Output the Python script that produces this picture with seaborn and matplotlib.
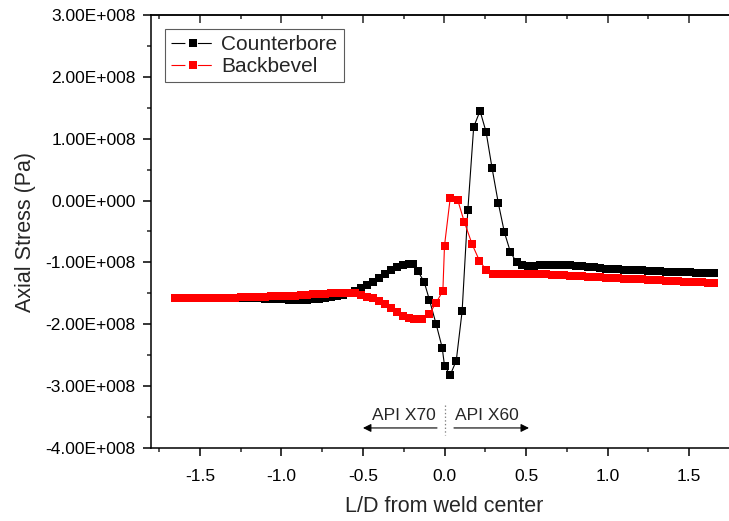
import numpy as np
import pandas as pd
import matplotlib
matplotlib.use("Agg")
import matplotlib.pyplot as plt
from matplotlib.lines import Line2D
from matplotlib.ticker import MultipleLocator, FuncFormatter
import seaborn as sns

# L/D positions and axial stress (in 1e8 Pa)
cb_x = [-1.652, -1.615, -1.578, -1.541, -1.505, -1.468, -1.431, -1.395, -1.358, -1.321,
        -1.285, -1.248, -1.211, -1.174, -1.138, -1.101, -1.064, -1.028, -0.991, -0.954,
        -0.918, -0.881, -0.844, -0.807, -0.771, -0.734, -0.697, -0.661, -0.624, -0.587,
        -0.551, -0.514, -0.477, -0.440, -0.404, -0.367, -0.330, -0.294, -0.257, -0.220,
        -0.195, -0.163, -0.124, -0.092, -0.051, -0.014, 0.000, 0.035, 0.072, 0.108,
        0.143, 0.179, 0.218, 0.255, 0.292, 0.330, 0.367, 0.404, 0.442, 0.478,
        0.514, 0.551, 0.587, 0.624, 0.661, 0.697, 0.734, 0.771, 0.807, 0.844,
        0.881, 0.918, 0.954, 0.991, 1.028, 1.064, 1.101, 1.138, 1.174, 1.211,
        1.248, 1.285, 1.321, 1.358, 1.395, 1.431, 1.468, 1.505, 1.541, 1.578,
        1.615, 1.652]
cb_y = [-1.57, -1.57, -1.57, -1.57, -1.57, -1.57, -1.57, -1.57, -1.57, -1.57,
        -1.57, -1.57, -1.575, -1.58, -1.58, -1.585, -1.59, -1.59, -1.595, -1.60,
        -1.60, -1.60, -1.60, -1.595, -1.59, -1.58, -1.565, -1.545, -1.52, -1.49,
        -1.46, -1.42, -1.37, -1.31, -1.25, -1.19, -1.13, -1.08, -1.04, -1.02,
        -1.03, -1.14, -1.32, -1.61, -2.00, -2.38, -2.67, -2.82, -2.59, -1.79,
        -0.16, 1.19, 1.45, 1.11, 0.52, -0.04, -0.51, -0.83, -1.00, -1.04,
        -1.05, -1.05, -1.04, -1.04, -1.035, -1.035, -1.04, -1.045, -1.05, -1.06,
        -1.07, -1.08, -1.09, -1.10, -1.105, -1.11, -1.115, -1.12, -1.125, -1.13,
        -1.135, -1.14, -1.145, -1.15, -1.15, -1.155, -1.16, -1.16, -1.165, -1.165,
        -1.17, -1.17]

bb_x = [-1.652, -1.615, -1.578, -1.541, -1.505, -1.468, -1.431, -1.395, -1.358, -1.321,
        -1.285, -1.248, -1.211, -1.174, -1.138, -1.101, -1.064, -1.028, -0.991, -0.954,
        -0.918, -0.881, -0.844, -0.807, -0.771, -0.734, -0.697, -0.661, -0.624, -0.587,
        -0.551, -0.514, -0.477, -0.440, -0.404, -0.367, -0.330, -0.294, -0.257, -0.220,
        -0.184, -0.140, -0.096, -0.053, -0.010, 0.000, 0.035, 0.081, 0.122, 0.170,
        0.214, 0.255, 0.296, 0.330, 0.367, 0.404, 0.440, 0.478, 0.514, 0.551,
        0.587, 0.624, 0.661, 0.697, 0.734, 0.771, 0.807, 0.844, 0.881, 0.918,
        0.954, 0.991, 1.028, 1.064, 1.101, 1.138, 1.174, 1.211, 1.248, 1.285,
        1.321, 1.358, 1.395, 1.431, 1.468, 1.505, 1.541, 1.578, 1.615, 1.652]
bb_y = [-1.575, -1.575, -1.575, -1.575, -1.575, -1.575, -1.575, -1.575, -1.57, -1.57,
        -1.57, -1.565, -1.565, -1.56, -1.56, -1.555, -1.55, -1.55, -1.545, -1.54,
        -1.535, -1.53, -1.52, -1.515, -1.51, -1.505, -1.50, -1.495, -1.49, -1.49,
        -1.50, -1.53, -1.555, -1.58, -1.63, -1.68, -1.74, -1.80, -1.86, -1.90,
        -1.92, -1.91, -1.84, -1.66, -1.46, -0.73, 0.04, 0.01, -0.35, -0.71,
        -0.97, -1.12, -1.19, -1.19, -1.185, -1.18, -1.18, -1.18, -1.18, -1.185,
        -1.19, -1.195, -1.20, -1.205, -1.21, -1.215, -1.22, -1.225, -1.23, -1.235,
        -1.24, -1.245, -1.25, -1.255, -1.26, -1.265, -1.27, -1.275, -1.28, -1.285,
        -1.29, -1.295, -1.30, -1.305, -1.31, -1.315, -1.32, -1.32, -1.325, -1.33]

series_names = ["Counterbore", "Backbevel"]
series_colors = ["#000000", "#ff0000"]

sns.set_style("ticks")
plt.rcParams["font.family"] = ["Liberation Sans", "DejaVu Sans"]
plt.rcParams["lines.scale_dashes"] = False

fig = plt.figure(figsize=(7.29, 5.21), dpi=100)
ax = fig.add_axes([151 / 729, 73 / 521, 587 / 729, 433 / 521])

for xs, ys, name, col in zip([cb_x, bb_x], [cb_y, bb_y], series_names, series_colors):
    df = pd.DataFrame({"x": xs, "y": np.asarray(ys) * 1e8})
    sns.lineplot(data=df, x="x", y="y", ax=ax, color=col, marker="s", markersize=6,
                 markeredgewidth=0, linewidth=0.8, sort=False, estimator=None)

ax.set_xlim(-1.8, 1.8)
ax.set_ylim(-4e8, 3e8)
ax.xaxis.set_major_locator(MultipleLocator(0.5))
ax.xaxis.set_minor_locator(MultipleLocator(0.25))
ax.yaxis.set_major_locator(MultipleLocator(1e8))
ax.yaxis.set_minor_locator(MultipleLocator(0.5e8))


def sci_fmt(v, pos):
    mant, exp = f"{v:.2E}".split("E")
    return f"{mant}E{exp[0]}{int(exp[1:]):03d}"


ax.yaxis.set_major_formatter(FuncFormatter(sci_fmt))
ax.xaxis.set_major_formatter(FuncFormatter(lambda v, p: f"{v:.1f}"))

for sp in ax.spines.values():
    sp.set_linewidth(1.1)
    sp.set_color("black")
ax.tick_params(axis="both", which="major", direction="out", length=6, width=1.1,
               labelsize=12.5, pad=5, colors="black")
ax.tick_params(axis="x", which="major", pad=9)
ax.tick_params(axis="both", which="minor", direction="out", length=3, width=1.1)

top = ax.secondary_xaxis("top")
top.xaxis.set_major_locator(MultipleLocator(0.5))
top.xaxis.set_minor_locator(MultipleLocator(0.25))
top.tick_params(which="major", direction="in", length=6, width=1.1, labeltop=False)
top.tick_params(which="minor", direction="in", length=3, width=1.1)
top.spines["top"].set_linewidth(1.1)

ax.set_xlabel("L/D from weld center", fontsize=15.5, labelpad=9)
ax.set_ylabel("Axial Stress (Pa)", fontsize=15.5, labelpad=7)

# annotation for the two pipe grades
ax.plot([0, 0], [-3.30e8, -3.79e8], linestyle=":", color="gray", linewidth=0.9)
ax.annotate("", xy=(-0.50, -3.676e8), xytext=(-0.046, -3.676e8),
            arrowprops=dict(arrowstyle="-|>", color="black", lw=0.8,
                            mutation_scale=12, shrinkA=0, shrinkB=0))
ax.annotate("", xy=(0.518, -3.676e8), xytext=(0.058, -3.676e8),
            arrowprops=dict(arrowstyle="-|>", color="black", lw=0.8,
                            mutation_scale=12, shrinkA=0, shrinkB=0))
ax.text(-0.248, -3.48e8, "API X70", ha="center", va="center", fontsize=12.5)
ax.text(0.259, -3.48e8, "API X60", ha="center", va="center", fontsize=12.5)

handles = [Line2D([], [], color=c, linewidth=0.8, marker="s", markersize=6,
                  markeredgewidth=0, linestyle=(0, (10, 9)))
           for c in series_colors]
leg = ax.legend(handles, series_names, loc="upper left", bbox_to_anchor=(0.024, 0.968),
                borderaxespad=0, fontsize=15, frameon=True, fancybox=False,
                handlelength=2.1, handletextpad=0.3, borderpad=0.3,
                labelspacing=0.15, numpoints=1)
leg.get_frame().set_edgecolor("#333333")
leg.get_frame().set_linewidth(0.8)

fig.savefig("out.png", dpi=100)
